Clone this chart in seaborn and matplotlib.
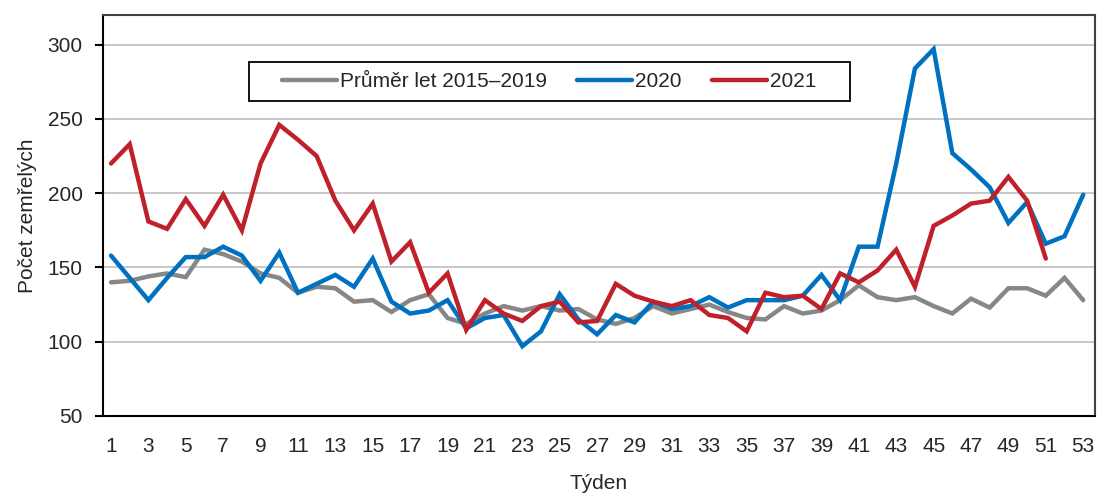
import numpy as np
import pandas as pd
import matplotlib
matplotlib.use("Agg")
import matplotlib.pyplot as plt
import seaborn as sns
from matplotlib.patches import Rectangle

# Weekly deaths
weeks = list(range(1, 54))
avg_2015_2019 = [140, 141, 144, 146, 143.5, 162, 159, 154, 146, 143,
                 133, 137, 136, 127, 128, 120, 128, 132, 116, 112,
                 119, 124, 121, 124, 121, 122, 115, 112, 116, 124,
                 119, 122, 125, 120, 116, 115, 124, 119, 121, 128,
                 138, 130, 128, 130, 124, 119, 129, 123, 136, 136,
                 131, 143, 128]
deaths_2020 = [158, 143, 128, 143, 157, 157, 164, 158, 141, 160,
               133, 139, 145, 137, 156, 127, 119, 121, 128, 109,
               116, 118, 97, 107, 132, 115, 105, 118, 113, 127,
               122, 124, 130, 123, 128, 128, 128, 131, 145, 128,
               164, 164, 220, 284, 297, 227, 216, 204, 180, 194,
               166, 171, 199]
deaths_2021 = [220, 233, 181, 176, 196, 178, 199, 175, 220, 246,
               236, 225, 195, 175, 193, 154, 167, 133, 146, 108,
               128, 119, 114, 124, 127, 113, 114, 139, 131, 127,
               124, 128, 118, 116, 107, 133, 130, 131, 122, 146,
               140, 148, 162, 137, 178, 185, 193, 195, 211, 195,
               156]

series_names = ["Průměr let 2015–2019", "2020", "2021"]
series_colors = ["#878787", "#0070C0", "#C0202A"]

sns.set_theme(style="white")
plt.rcParams["font.family"] = ["Liberation Sans", "DejaVu Sans"]

frames = []
for name, vals in zip(series_names, [avg_2015_2019, deaths_2020, deaths_2021]):
    frames.append(pd.DataFrame({"Týden": weeks[:len(vals)], "deaths": vals, "series": name}))
df = pd.concat(frames, ignore_index=True)

fig = plt.figure(figsize=(11, 4.95), dpi=100)
ax = fig.add_axes([0.0936, 0.1596, 0.902, 0.8101])

for name, color in zip(series_names, series_colors):
    sub = df[df["series"] == name]
    sns.lineplot(data=sub, x="Týden", y="deaths", color=color, linewidth=3.2,
                 ax=ax, label=name, legend=False, solid_joinstyle="miter")

ax.set_xlim(0.57, 53.64)
ax.set_ylim(50, 320)
ax.set_yticks([50, 100, 150, 200, 250, 300])
ax.set_xticks(weeks[::2])
ax.grid(axis="y", color="#c8c8c8", linewidth=1.4)
ax.set_axisbelow(True)

for side in ["left", "bottom"]:
    ax.spines[side].set_color("black")
    ax.spines[side].set_linewidth(1.5)
for side in ["top", "right"]:
    ax.spines[side].set_color("#404040")
    ax.spines[side].set_linewidth(1.5)

txt = "#262626"
ax.tick_params(axis="y", which="both", left=True, length=6, width=1.5,
               color="black", pad=8.5, labelsize=15, labelcolor=txt)
ax.tick_params(axis="x", bottom=False, pad=9, labelsize=15, labelcolor=txt)

ax.set_xlabel("Týden", fontsize=15, labelpad=13, color=txt)
ax.set_ylabel("Počet zemřelých", fontsize=15, labelpad=8, color=txt)

# legend box drawn separately (Excel-style wide frame)
ax.add_patch(Rectangle((0.1472, 0.7855), 0.6058, 0.0973, transform=ax.transAxes,
                       facecolor="white", edgecolor="black", linewidth=1.3, zorder=5))
leg = ax.legend(handles=ax.lines[:3], labels=series_names, ncol=3,
                loc="center left", bbox_to_anchor=(0.1804, 0.834),
                frameon=False, fontsize=15, handlelength=2.64, handletextpad=0.15,
                columnspacing=1.45, borderpad=0, borderaxespad=0)
leg.set_zorder(6)
for t in leg.get_texts():
    t.set_color(txt)

fig.savefig("out.png", dpi=100, facecolor="white")
